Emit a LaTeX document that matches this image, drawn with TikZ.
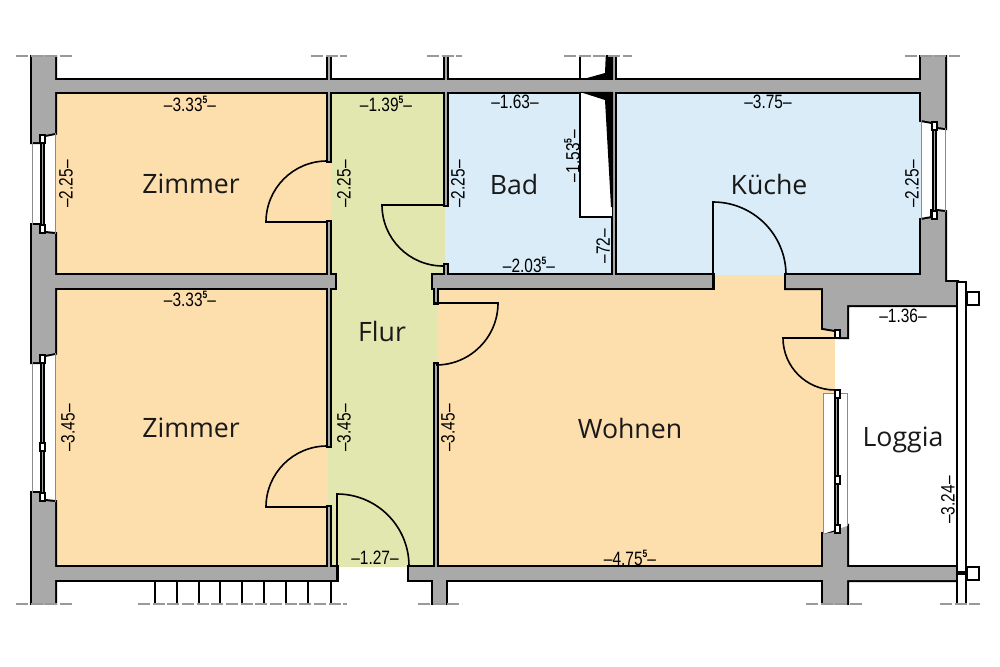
\documentclass[tikz,border=0pt]{standalone}
\usepackage{fontspec}
\setmainfont{Open Sans}
\newfontfamily\dimfont[FakeStretch=0.8]{Liberation Sans}
\usepackage{xcolor}
\usetikzlibrary{positioning}

\definecolor{wallgray}{HTML}{A9A9A9}
\definecolor{roomorange}{HTML}{FDDFAE}
\definecolor{roomgreen}{HTML}{E1E7AE}
\definecolor{roomblue}{HTML}{D9ECF7}

\newcommand{\fivesup}{\raisebox{0.42em}{\fontsize{8}{8}\selectfont\bfseries 5}}
\newcommand{\wallparts}{
	{(32,50)--(55,50)--(55,133)--(45,135)--(40,135)--(40,142)--(32,142)},
	{(32,225)--(40,225)--(40,233)--(45,233)--(55,234)--(55,353)--(45,355)--(40,355)--(40,362)--(32,362)},
	{(32,493)--(40,493)--(40,501)--(45,501)--(55,502)--(55,610)--(32,610)},
	{(55,80)--(921,80)--(921,92)--(55,92)},
	{(328,50)--(330,50)--(330,161)--(328,161)},
	{(445,50)--(447,50)--(447,205)--(445,205)},
	{(613,50)--(615,50)--(615,275)--(613,275)},
	{(921,50)--(945,50)--(945,128)--(937,127)--(937,122)--(932,122)--(921,120)},
	{(55,275)--(335,275)--(335,288)--(55,288)},
	{(328,222)--(330,222)--(330,275)--(328,275)},
	{(328,288)--(330,288)--(330,446)--(328,446)},
	{(328,507)--(330,507)--(330,567)--(328,567)},
	{(55,567)--(337,567)--(337,580)--(55,580)},
	{(445,265)--(447,265)--(447,275)--(445,275)},
	{(433,275)--(713,275)--(713,288)--(433,288)},
	{(435,288)--(437,288)--(437,303)--(435,303)},
	{(435,364)--(437,364)--(437,567)--(435,567)},
	{(409,567)--(823,567)--(823,580)--(409,580)},
	{(433,580)--(446,580)--(446,610)--(433,610)},
	{(786,275)--(921,275)--(921,220)--(932,218)--(932,211)--(937,211)--(945,212)--(945,282)--(957,282)--(957,305)--(847,305)--(847,337)--(840,337)--(840,330)--(835,330)--(823,328)--(823,288)--(786,288)},
	{(823,534)--(834,532)--(840,527)--(847,526)--(847,567)--(957,567)--(957,580)--(847,580)--(847,610)--(823,610)}
}

\tikzset{
	roomlabel/.style={font=\fontsize{20}{20}\selectfont,text=black!90,inner sep=0pt},
	dimlabel/.style={font=\dimfont\fontsize{14.5}{14.5}\selectfont,inner sep=0pt},
	walloutline/.style={draw=black,line width=3pt,line join=miter},
	doorline/.style={draw=black,line width=1.2pt},
	thinline/.style={draw=black,line width=0.8pt},
	revealline/.style={draw=black!45,line width=0.6pt},
	framebox/.style={draw=black,fill=white,line width=0.8pt},
	cutline/.style={draw=black!40,line width=0.9pt,dash pattern=on 9pt off 2pt}
}

\begin{document}
\begin{tikzpicture}[x=0.75pt,y=-0.75pt]
	\useasboundingbox (0,0) rectangle (1000,667);

	% rooms
	\fill[roomorange] (55,92) rectangle (331,275);
	\fill[roomorange] (55,288) rectangle (328,567);
	\fill[roomgreen] (331,92) rectangle (445,275);
	\fill[roomgreen] (328,275) rectangle (438,567);
	\fill[roomblue] (445,92) rectangle (614,275);
	\fill[roomblue] (614,92) rectangle (921,275);
	\fill[roomorange] (438,288) rectangle (823,567);
	\fill[roomorange] (713,275) rectangle (786,288);
	\fill[roomorange] (823,328) rectangle (835,393);

	\begin{scope}
		\clip (0,56) rectangle (1000,604);

		% walls: black first, grey on top, so that only the outer edge stays
		\foreach \wallpart in \wallparts
			\draw[walloutline] \wallpart -- cycle;
		\foreach \wallpart in \wallparts
			\fill[wallgray] \wallpart -- cycle;

		% shaft and flue
		\fill[white] (581,93) rectangle (612,217);
		\draw[thinline,line width=1.5pt] (580,50) -- (580,80);
		\draw[thinline,line width=1.5pt] (580,92) -- (580,217) -- (612,217);
		\fill[black] (580,92) -- (613,92) -- (613,207) -- (611,207) -- (605,100) -- cycle;
		\fill[black] (580,80) -- (605,73) -- (606,50) -- (613,50) -- (613,80) -- cycle;

		% stairs
		\foreach \stepx in {155,177,199,220,242,264,286,308,331}
			\draw[thinline] (\stepx,580) -- (\stepx,610);

		% loggia railing
		\draw[walloutline,line width=1.5pt,fill=white] (957,610) -- (957,282) -- (966,282) -- (966,610);
		\fill[black] (957,571) rectangle (966,575);
		\draw[framebox,line width=1.2pt] (967,292) rectangle (979,305);
		\draw[framebox,line width=1.2pt] (967,567) rectangle (979,580);
	\end{scope}

	% cut marks
	\foreach \cutfrom/\cutto in {16/72,311/347,427/462,564/632,905/960}
		\draw[cutline] (\cutfrom,56) -- (\cutto,56);
	\foreach \cutfrom/\cutto in {16/72,138/347,418/462,806/862,940/980}
		\draw[cutline] (\cutfrom,604) -- (\cutto,604);

	% windows
	\draw[revealline] (32,142) -- (32,225);
	\draw[revealline] (55,133) -- (55,234);
	\draw[revealline] (32,362) -- (32,493);
	\draw[revealline] (55,353) -- (55,502);
	\draw[revealline] (921,120) -- (921,220);
	\draw[revealline] (945,128) -- (945,212);
	\draw[revealline,fill=white] (823,534) -- (823,393) -- (847,393) -- (847,526);
	\foreach \winx/\wintop/\winbot in {40/139/229,40/359/497,932/126/215,834/393/529}
		\draw[thinline,fill=wallgray] (\winx+1,\wintop) rectangle (\winx+4,\winbot);
	\foreach \winx/\winy in {40/135,40/225,40/355,40/443,40/493,932/122,932/211,835/330,835/390,835/476,835/525}
		\draw[framebox] (\winx,\winy) rectangle (\winx+5,\winy+8);

	% doors
	\draw[doorline] (327,222) -- (266,222) arc[start angle=180,end angle=270,radius=61];
	\draw[doorline] (327,507) -- (266,507) arc[start angle=180,end angle=270,radius=61];
	\draw[doorline] (444,205) -- (382,205) arc[start angle=180,end angle=90,radius=61];
	\draw[doorline] (433,303) -- (498,303) arc[start angle=0,end angle=90,radius=62];
	\draw[doorline] (337,580) -- (337,494) arc[start angle=270,end angle=360,radius=72];
	\draw[doorline] (713,288) -- (713,202) arc[start angle=270,end angle=360,radius=73];
	\draw[doorline] (835,338) -- (783,338) arc[start angle=180,end angle=90,radius=52];

	% room names
	\node[roomlabel] (zimmerA) at (191,184) {Zimmer};
	\node[roomlabel] (zimmerB) at (191,428) {Zimmer};
	\node[roomlabel] (flur) at (382,331) {Flur};
	\node[roomlabel] (bad) at (514,184) {Bad};
	\node[roomlabel] (kueche) at (769,184) {Küche};
	\node[roomlabel] (wohnen) at (630,428) {Wohnen};
	\node[roomlabel] (loggia) at (903,440) {Loggia};

	% dimensions
	\node[dimlabel] (dimA) at (190,104) {–3.33\fivesup–};
	\node[dimlabel] (dimB) at (190,299) {–3.33\fivesup–};
	\node[dimlabel] (dimC) at (386,104) {–1.39\fivesup–};
	\node[dimlabel] (dimD) at (515,102) {–1.63–};
	\node[dimlabel] (dimE) at (768,102) {–3.75–};
	\node[dimlabel] (dimF) at (529,265) {–2.03\fivesup–};
	\node[dimlabel] (dimG) at (375,558) {–1.27–};
	\node[dimlabel] (dimH) at (630,558) {–4.75\fivesup–};
	\node[dimlabel] (dimI) at (903,316) {–1.36–};
	\node[dimlabel,rotate=90] (dimJ) at (66,184) {–2.25–};
	\node[dimlabel,rotate=90] (dimK) at (344,184) {–2.25–};
	\node[dimlabel,rotate=90] (dimL) at (458,184) {–2.25–};
	\node[dimlabel,rotate=90] (dimM) at (912,184) {–2.25–};
	\node[dimlabel,rotate=90] (dimN) at (572,156) {–1.53\fivesup–};
	\node[dimlabel,rotate=90] (dimO) at (603,246) {–72–};
	\node[dimlabel,rotate=90] (dimP) at (68,428) {–3.45–};
	\node[dimlabel,rotate=90] (dimQ) at (344,428) {–3.45–};
	\node[dimlabel,rotate=90] (dimR) at (448,428) {–3.45–};
	\node[dimlabel,rotate=90] (dimS) at (948,500) {–3.24–};
\end{tikzpicture}
\end{document}
